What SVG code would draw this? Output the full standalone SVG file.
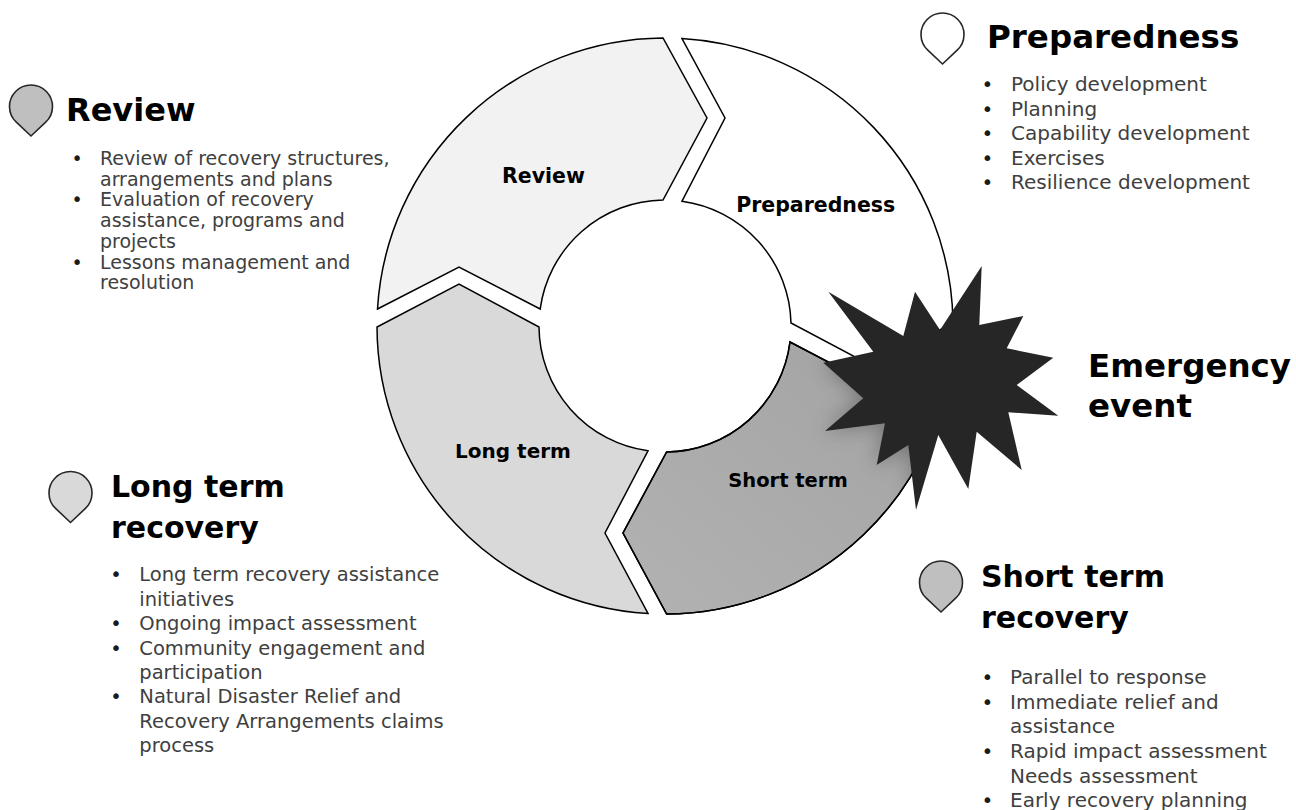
<svg xmlns="http://www.w3.org/2000/svg" width="1296" height="810" viewBox="0 0 1296 810">
  <style>
    .seg { stroke: #000; stroke-width: 1.5; stroke-linejoin: miter; }
    .pin { stroke: #262626; stroke-width: 1.6; }
    .ring { font-family: "DejaVu Sans", "Liberation Sans", sans-serif; font-weight: bold; fill: #000; text-anchor: middle; }
    .title { font-family: "DejaVu Sans", "Liberation Sans", sans-serif; font-weight: bold; fill: #000; }
    .body { font-family: "DejaVu Sans", "Liberation Sans", sans-serif; fill: #404040; }
    .bul { font-family: "DejaVu Sans", "Liberation Sans", sans-serif; fill: #1a1a1a; text-anchor: middle; }
  </style>
  <defs>
    <linearGradient id="stGrad" x1="1" y1="0" x2="0" y2="1">
      <stop offset="0" stop-color="#a2a2a2"/>
      <stop offset="1" stop-color="#b2b2b2"/>
    </linearGradient>
    <filter id="blur" x="-30%" y="-30%" width="160%" height="160%">
      <feGaussianBlur stdDeviation="10"/>
    </filter>
    <clipPath id="stClip">
      <path d="M 952.6,342 A 288 288 0 0 1 666.6,614 L 623,533 L 666.6,452 A 126 126 0 0 0 790,342 L 872,385 Z"/>
    </clipPath>
    <polygon id="starShape" points="828.3,291.7 903.3,336 915,291.7 940,330 981.7,266 979.3,325 1023.3,316 1006.7,348.3 1053.3,357.7 1016.7,385 1058.3,415.7 1008.3,412.3 1021.7,470 976.7,431.7 968.3,489 938.3,435 916,510 908.3,445 876.7,465 885,423.3 825,431 863.3,398.3 823.3,362.7 873.3,351.7"/>
  </defs>

  <rect x="0" y="0" width="1296" height="810" fill="#ffffff"/>

  <g id="connectors"></g>

  <!-- Ring segments -->
  <g id="seg-review">
    <path class="seg" fill="#f2f2f2" d="M 377.5,309 L 459,267 L 540.2,309 A 126 126 0 0 1 663,200 L 707,118 L 663,38 A 288 288 0 0 0 377.5,309 Z"/>
    <text class="ring" x="543.5" y="182.7" font-size="20.5">Review</text>
  </g>
  <g id="seg-preparedness">
    <path class="seg" fill="#ffffff" d="M 682,38.5 A 288 288 0 0 1 953,323 L 872,366 L 791,323 A 126 126 0 0 0 682,201.2 L 725,118 Z"/>
    <text class="ring" x="815.7" y="211.7" font-size="20.5">Preparedness</text>
  </g>
  <g id="seg-longterm">
    <path class="seg" fill="#d9d9d9" d="M 648,613.5 A 288 288 0 0 1 377,327 L 459,284 L 539,327 A 126 126 0 0 0 648,450.8 L 605,533 Z"/>
    <text class="ring" x="513" y="458.3" font-size="20">Long term</text>
  </g>
  <g id="seg-shortterm">
    <path class="seg" fill="url(#stGrad)" d="M 952.6,342 A 288 288 0 0 1 666.6,614 L 623,533 L 666.6,452 A 126 126 0 0 0 790,342 L 872,385 Z"/>
    <g clip-path="url(#stClip)">
      <use href="#starShape" fill="#4a4a4a" opacity="0.55" filter="url(#blur)"/>
    </g>
    <path fill="none" class="seg" d="M 952.6,342 A 288 288 0 0 1 666.6,614 L 623,533 L 666.6,452 A 126 126 0 0 0 790,342 L 872,385 Z"/>
    <text class="ring" x="788" y="486.7" font-size="19.5">Short term</text>
  </g>

  <!-- Emergency star -->
  <g id="emergency-event">
    <use href="#starShape" fill="#262626"/>
    <text class="title" x="1088" y="376.7" font-size="32.5">Emergency</text>
    <text class="title" x="1088" y="416.7" font-size="32.5">event</text>
  </g>

  <!-- Review description -->
  <g id="review-info">
    <path class="pin" fill="#bfbfbf" d="M 31,136 L 16.3,122.2 A 21.5 21.5 0 1 1 45.7,122.2 Z"/>
    <text class="title" x="66" y="120.7" font-size="32">Review</text>
    <g font-size="19">
      <text class="bul" x="77" y="165">•</text>
      <text class="body" x="100" y="165">Review of recovery structures,</text>
      <text class="body" x="100" y="185.7">arrangements and plans</text>
      <text class="bul" x="77" y="206.4">•</text>
      <text class="body" x="100" y="206.4">Evaluation of recovery</text>
      <text class="body" x="100" y="227.1">assistance, programs and</text>
      <text class="body" x="100" y="247.8">projects</text>
      <text class="bul" x="77" y="268.5">•</text>
      <text class="body" x="100" y="268.5">Lessons management and</text>
      <text class="body" x="100" y="289.2">resolution</text>
    </g>
  </g>

  <!-- Preparedness description -->
  <g id="preparedness-info">
    <path class="pin" fill="#ffffff" d="M 942.5,64 L 927.8,50.2 A 21.5 21.5 0 1 1 957.2,50.2 Z"/>
    <text class="title" x="987" y="48.3" font-size="32.5">Preparedness</text>
    <g font-size="20">
      <text class="bul" x="987.5" y="91">•</text>
      <text class="body" x="1011" y="91">Policy development</text>
      <text class="bul" x="987.5" y="115.6">•</text>
      <text class="body" x="1011" y="115.6">Planning</text>
      <text class="bul" x="987.5" y="140.2">•</text>
      <text class="body" x="1011" y="140.2">Capability development</text>
      <text class="bul" x="987.5" y="164.8">•</text>
      <text class="body" x="1011" y="164.8">Exercises</text>
      <text class="bul" x="987.5" y="189.4">•</text>
      <text class="body" x="1011" y="189.4">Resilience development</text>
    </g>
  </g>

  <!-- Long term description -->
  <g id="longterm-info">
    <path class="pin" fill="#d9d9d9" d="M 70.5,522.5 L 55.8,508.7 A 21.5 21.5 0 1 1 85.2,508.7 Z"/>
    <text class="title" x="111" y="496.7" font-size="30">Long term</text>
    <text class="title" x="111" y="538.3" font-size="30">recovery</text>
    <g font-size="19.5">
      <text class="bul" x="116" y="581.3">•</text>
      <text class="body" x="139.3" y="581.3">Long term recovery assistance</text>
      <text class="body" x="139.3" y="605.7">initiatives</text>
      <text class="bul" x="116" y="630.1">•</text>
      <text class="body" x="139.3" y="630.1">Ongoing impact assessment</text>
      <text class="bul" x="116" y="654.5">•</text>
      <text class="body" x="139.3" y="654.5">Community engagement and</text>
      <text class="body" x="139.3" y="678.9">participation</text>
      <text class="bul" x="116" y="703.3">•</text>
      <text class="body" x="139.3" y="703.3">Natural Disaster Relief and</text>
      <text class="body" x="139.3" y="727.7">Recovery Arrangements claims</text>
      <text class="body" x="139.3" y="752.1">process</text>
    </g>
  </g>

  <!-- Short term description -->
  <g id="shortterm-info">
    <path class="pin" fill="#bfbfbf" d="M 941,612 L 926.3,598.2 A 21.5 21.5 0 1 1 955.7,598.2 Z"/>
    <text class="title" x="981" y="586.7" font-size="30">Short term</text>
    <text class="title" x="981" y="628.3" font-size="30">recovery</text>
    <g font-size="20">
      <text class="bul" x="987.5" y="683.8">•</text>
      <text class="body" x="1010" y="683.8">Parallel to response</text>
      <text class="bul" x="987.5" y="708.5">•</text>
      <text class="body" x="1010" y="708.5">Immediate relief and</text>
      <text class="body" x="1010" y="733.2">assistance</text>
      <text class="bul" x="987.5" y="757.9">•</text>
      <text class="body" x="1010" y="757.9">Rapid impact assessment</text>
      <text class="body" x="1010" y="782.6">Needs assessment</text>
      <text class="bul" x="987.5" y="807.3">•</text>
      <text class="body" x="1010" y="807.3">Early recovery planning</text>
    </g>
  </g>
</svg>
